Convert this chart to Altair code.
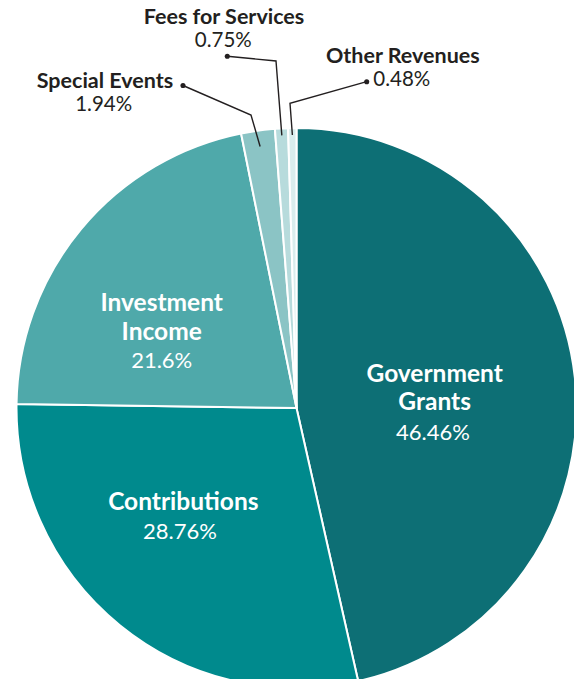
import math
import altair as alt
import pandas as pd

# ---- data ----
categories = ["Government Grants", "Contributions", "Investment Income",
              "Special Events", "Fees for Services", "Other Revenues"]
values = [46.46, 28.76, 21.6, 1.94, 0.75, 0.48]
name_lines = [["Government", "Grants"], ["Contributions"], ["Investment", "Income"],
              ["Special Events"], ["Fees for Services"], ["Other Revenues"]]
pct_labels = ["46.46%", "28.76%", "21.6%", "1.94%", "0.75%", "0.48%"]
colors = ["#0d6f75", "#008a8d", "#4fa9aa", "#8bc4c5", "#b7dbdc", "#d9eded"]

# ---- layout ----
W, H = 566, 671
CX, CY, R = 288.5, 400.0, 280
total = sum(values)
FONT = "Lato"
DARK = "#231f20"

starts, ends = [], []
acc = 0.0
for v in values:
    starts.append(acc)
    acc += v
    ends.append(acc)
mids = [(s + e) / 2 for s, e in zip(starts, ends)]


def polar(val, r):
    a = val / total * 2 * math.pi
    return CX + r * math.sin(a), CY - r * math.cos(a)


pie_df = pd.DataFrame({"category": categories, "value": values,
                       "start": starts, "end": ends})

# inside labels: anchor radius, then (dx, dy) for each name line, and pct
inside_layout = {
    0: (140, [(-1, -17.2), (-1, 10.8)], (-2.6, 40.8)),
    1: (150, [(-18.7, -21.2)], (-22, 7.7)),
    2: (150, [(-19.4, -7.7), (-19.4, 20.6)], (-19.4, 49)),
}
# outside labels: name pos, pct pos, align, dot, elbow, end radius
outside_layout = {
    3: ((97, 74), (95.7, 97.3), "center", (175, 77.5), (243, 107), 264),
    4: ((216, 9.5), (215.3, 33), "center", (219.3, 48.3), (268, 53), 273),
    5: ((318, 49), (365.3, 72.3), "left", (358.7, 73.7), (282, 95.3), 273),
}

txt_rows = []
for i, (r, name_offs, pct_off) in inside_layout.items():
    ax, ay = polar(mids[i], r)
    for line, (dx, dy) in zip(name_lines[i], name_offs):
        txt_rows.append({"x": ax + dx, "y": ay + dy, "t": line, "kind": "in_name", "align": "center"})
    txt_rows.append({"x": ax + pct_off[0], "y": ay + pct_off[1], "t": pct_labels[i],
                     "kind": "in_pct", "align": "center"})

line_rows, dot_rows = [], []
for i, (npos, ppos, al, dot, elbow, rend) in outside_layout.items():
    txt_rows.append({"x": npos[0], "y": npos[1], "t": name_lines[i][0], "kind": "out_name", "align": al})
    txt_rows.append({"x": ppos[0], "y": ppos[1], "t": pct_labels[i], "kind": "out_pct", "align": al})
    ex, ey = polar(mids[i], rend)
    for k, (px, py) in enumerate([dot, elbow, (ex, ey)]):
        line_rows.append({"category": categories[i], "step": k, "x": px, "y": py})
    dot_rows.append({"category": categories[i], "x": dot[0], "y": dot[1]})

txt_df = pd.DataFrame(txt_rows)
line_df = pd.DataFrame(line_rows)
dot_df = pd.DataFrame(dot_rows)

theta_scale = alt.Scale(domain=[0, total], range=[0, 2 * math.pi])
xs = alt.Scale(domain=[0, W], range=[0, W], zero=False, nice=False)
ys = alt.Scale(domain=[0, H], range=[0, H], zero=False, nice=False)

pie = alt.Chart(pie_df).mark_arc(outerRadius=R, stroke="white", strokeWidth=2).encode(
    theta=alt.Theta("start:Q", scale=theta_scale),
    theta2="end:Q",
    color=alt.Color("category:N", scale=alt.Scale(domain=categories, range=colors), legend=None),
    x=alt.value(CX),
    y=alt.value(CY),
)

base_xy = dict(x=alt.X("x:Q", scale=xs, axis=None), y=alt.Y("y:Q", scale=ys, axis=None))

leaders = alt.Chart(line_df).mark_line(color=DARK, strokeWidth=1.4).encode(
    detail="category:N", order="step:Q", **base_xy)
dots = alt.Chart(dot_df).mark_circle(color=DARK, size=26, opacity=1).encode(**base_xy)


def text_layer(kind, weight, size, color, align):
    return alt.Chart(txt_df).transform_filter(
        (alt.datum.kind == kind) & (alt.datum.align == align)
    ).mark_text(font=FONT, fontWeight=weight, fontSize=size, color=color,
                align=align, baseline="middle").encode(text="t:N", **base_xy)


layers = [pie, leaders, dots,
          text_layer("in_name", "bold", 24.5, "white", "center"),
          text_layer("in_pct", "normal", 22, "white", "center"),
          text_layer("out_name", "bold", 21.5, DARK, "center"),
          text_layer("out_pct", "normal", 20.5, DARK, "center"),
          text_layer("out_name", "bold", 21.5, DARK, "left"),
          text_layer("out_pct", "normal", 20.5, DARK, "left")]

chart = alt.layer(*layers).properties(
    width=W, height=H, autosize=alt.AutoSizeParams(type="none"), padding=0,
    background="white"
).configure_view(stroke=None)

chart.save("out.html", embed_options={"renderer": "svg", "actions": False})
